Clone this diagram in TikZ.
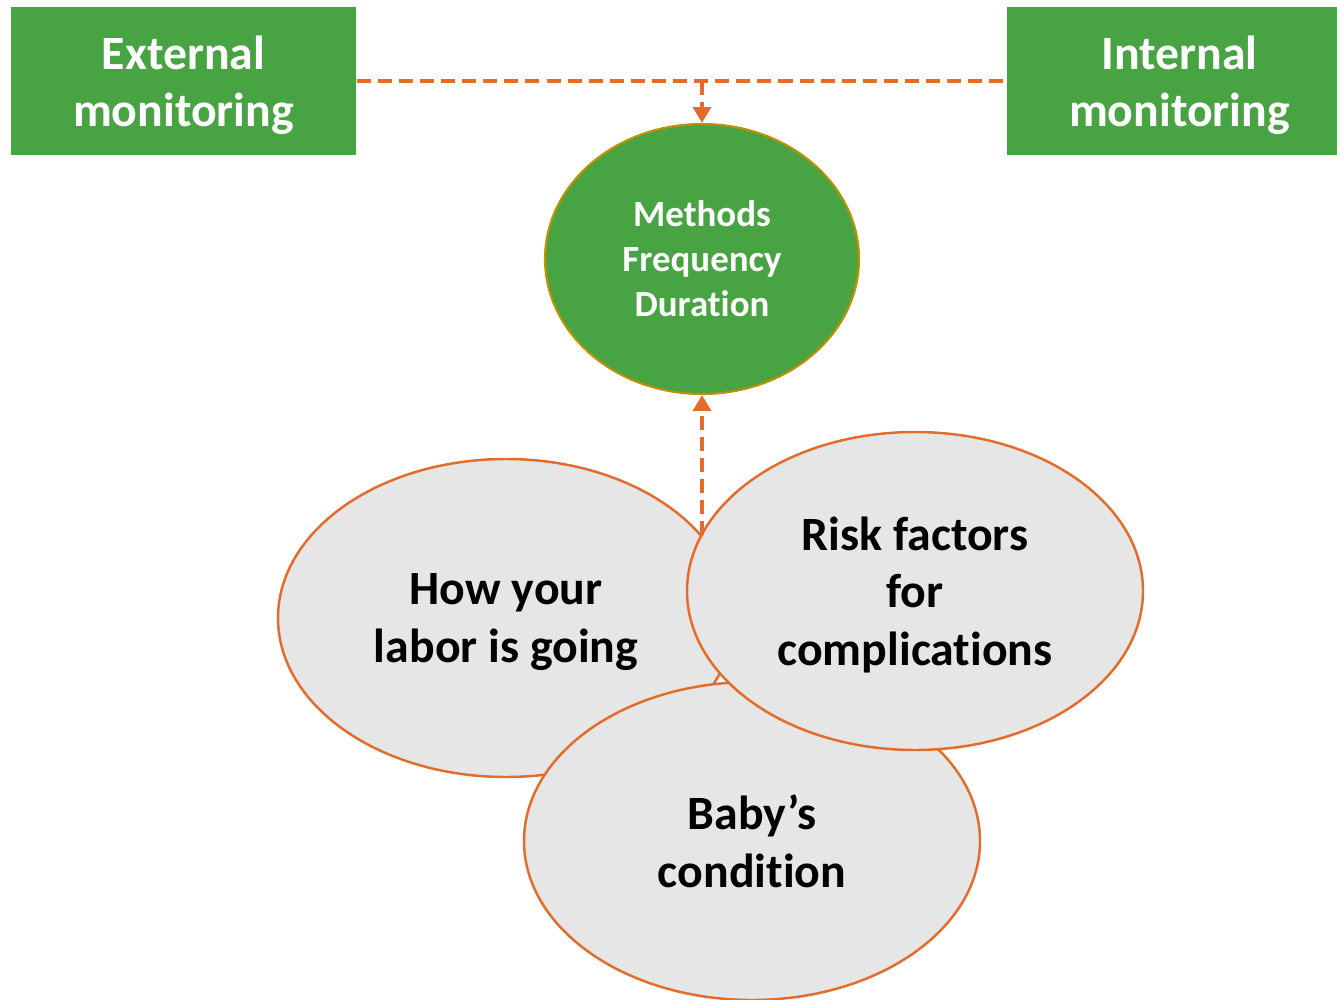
\documentclass[tikz,border=0pt]{standalone}
\usepackage{fontspec}
\setmainfont{Carlito}[Ligatures={NoCommon,NoContextual}]
\usetikzlibrary{shapes.geometric,arrows.meta}
\definecolor{boxgreen}{HTML}{48A342}
\definecolor{lineorange}{HTML}{E46C2A}
\definecolor{ovalgray}{HTML}{E6E6E6}
\definecolor{ringgold}{HTML}{BF9000}
\begin{document}
\begin{tikzpicture}[
    monbox/.style = {fill=boxgreen, text=white, minimum width=3.45cm, minimum height=1.48cm,
                     text depth=0pt, align=center,
                     font=\fontsize{13.6}{16.2}\selectfont\bfseries},
    topic/.style  = {ellipse, draw=lineorange, line width=0.7pt, fill=ovalgray,
                     minimum width=4.56cm, minimum height=3.18cm, inner sep=0pt, align=center,
                     text depth=0pt, font=\fontsize{13.6}{16.4}\selectfont\bfseries},
    link/.style   = {draw=lineorange, line width=1.2pt, dash pattern=on 4pt off 2pt}
  ]
  \useasboundingbox (0,0) rectangle (13.37,-9.99);
  % monitoring boxes
  \node[monbox] (ext) at (1.835,-0.81) {External\\monitoring};
  \node[monbox] (int) at (11.795,-0.81) {Internal\\monitoring};
  % centre oval
  \node[ellipse, draw=ringgold, line width=0.6pt, fill=boxgreen, text=white,
        minimum width=3.14cm, minimum height=2.70cm, inner sep=0pt, align=center,
        font=\fontsize{10.5}{12.8}\selectfont\bfseries] (meth) at (7.02,-2.59)
        {Methods\\Frequency\\Duration};
  % the three topics
  \node[topic] (labor) at (5.06,-6.18) {How your\\labor is going};
  \node[topic] (baby)  at (7.52,-8.41) {Baby’s\\condition};
  \node[topic] (risk)  at (9.15,-5.91) {Risk factors\\for\\complications};
  % connectors
  \coordinate (join) at (7.02,-0.81);
  \coordinate (split) at (7.02,-5.35);
  \draw[link] (ext.east) -- (int.west);
  \draw[link, -{Triangle[width=5pt,length=4.5pt]}] (join) -- (meth.north);
  \draw[link, -{Triangle[width=5pt,length=4.5pt]}] (split) -- (meth.south);
\end{tikzpicture}
\end{document}
